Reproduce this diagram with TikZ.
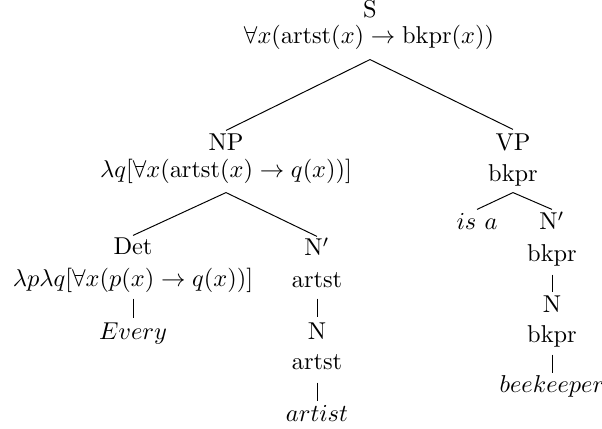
\documentclass[tikz,border=0pt]{standalone}
\usetikzlibrary{calc}
\begin{document}
\begin{tikzpicture}[x=0.41pt,y=-0.41pt,
  tn/.style={inner sep=0pt,anchor=base,text height=7pt,text depth=2.5pt},
  edge/.style={line width=0.4pt}]
\useasboundingbox (0,0) rectangle (602,429);
% S
\node[tn] (S) at (370,18) {S};
\node[tn] (Ssem) at (369,44) {$\forall x(\mathrm{artst}(x)\rightarrow \mathrm{bkpr}(x))$};
% NP
\node[tn] (NP) at (226,151) {NP};
\node[tn] (NPsem) at (226,178) {$\lambda q[\forall x(\mathrm{artst}(x)\rightarrow q(x))]$};
% VP
\node[tn] (VP) at (513,151) {VP};
\node[tn] (VPsem) at (513,182) {bkpr};
% Det
\node[tn] (Det) at (133,255) {Det};
\node[tn] (Detsem) at (133,287) {$\lambda p\lambda q[\forall x(p(x)\rightarrow q(x))]$};
\node[tn] (Every) at (133,340) {$Every$};
% N' (artist)
\node[tn] (Nb) at (317,256) {N$'$};
\node[tn] (Nbsem) at (317,288) {artst};
\node[tn] (N) at (317,340) {N};
\node[tn] (Nsem) at (317,370) {artst};
\node[tn] (artist) at (317,422) {$artist$};
% VP side
\node[tn] (isa) at (477,230) {$is\ a$};
\node[tn] (Nbv) at (552,230) {N$'$};
\node[tn] (Nbvsem) at (552,262) {bkpr};
\node[tn] (Nv) at (552,313) {N};
\node[tn] (Nvsem) at (552,343) {bkpr};
\node[tn] (bee) at (552,393) {$beekeeper$};
% edges
\draw[edge] ($(Ssem.south)+(1,9)$) -- ($(NP.north)+(0,-3)$);
\draw[edge] ($(Ssem.south)+(1,9)$) -- ($(VP.north)+(0,-4)$);
\draw[edge] ($(NPsem.south)+(0,8)$) -- ($(Det.north)+(0,-2)$);
\draw[edge] ($(NPsem.south)+(0,8)$) -- ($(Nb.north)+(0,-2)$);
\draw[edge] ($(VPsem.south)+(0,4)$) -- ($(isa.north)+(0,-3)$);
\draw[edge] ($(VPsem.south)+(0,4)$) -- ($(Nbv.north)+(0,-3)$);
\draw[edge] ($(Detsem.south)+(0,5)$) -- ($(Every.north)+(0,-4)$);
\draw[edge] ($(Nbsem.south)+(0,4)$) -- ($(N.north)+(0,-5)$);
\draw[edge] ($(Nsem.south)+(0,6)$) -- ($(artist.north)+(0,-3)$);
\draw[edge] ($(Nbvsem.south)+(0,6)$) -- ($(Nv.north)+(0,-3)$);
\draw[edge] ($(Nvsem.south)+(0,5)$) -- ($(bee.north)+(0,-2)$);
\end{tikzpicture}
\end{document}
